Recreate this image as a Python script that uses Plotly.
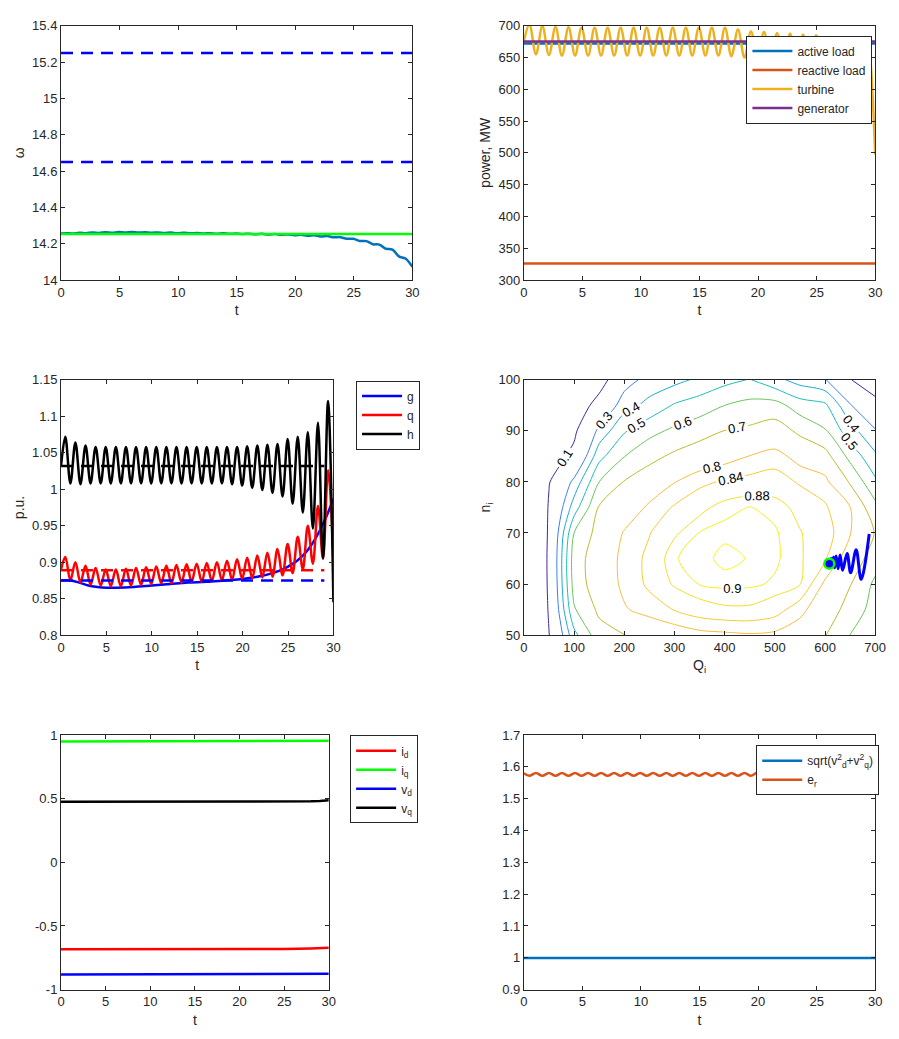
import plotly.graph_objects as go

# ---------------- data ----------------
# sample times at the extrema of the ~1.1 s oscillation (t=0, peak, trough, ..., t=30)
T_EXT = [0, 0.47, 1.03, 1.58, 2.14, 2.70, 3.25, 3.81, 4.37, 4.92, 5.48, 6.04, 6.59, 7.15, 7.71,
         8.26, 8.82, 9.37, 9.93, 10.49, 11.04, 11.60, 12.16, 12.71, 13.27, 13.83, 14.38, 14.94,
         15.50, 16.05, 16.61, 17.17, 17.72, 18.28, 18.84, 19.39, 19.95, 20.50, 21.06, 21.62,
         22.17, 22.73, 23.29, 23.84, 24.40, 24.96, 25.51, 26.07, 26.63, 27.18, 27.74, 28.30,
         28.85, 29.41, 30.0]
T_FLAT = [0, 5, 10, 15, 20, 25, 28, 29, 30]
T_G = [0, 1, 2, 3, 4, 5, 6, 8, 10, 12, 14, 16, 18, 20, 22, 23, 24, 25, 26, 27, 28, 29, 30]
T_REF = [0, 30]
T_REF2 = [0, 29]

# panel 1: omega
OMEGA = [14.256, 14.258, 14.256, 14.260, 14.258, 14.262, 14.259, 14.263, 14.260, 14.264, 14.261,
         14.264, 14.261, 14.263, 14.260, 14.262, 14.259, 14.261, 14.258, 14.260, 14.257, 14.259,
         14.256, 14.258, 14.255, 14.257, 14.254, 14.256, 14.253, 14.255, 14.252, 14.254, 14.251,
         14.253, 14.249, 14.251, 14.247, 14.249, 14.244, 14.246, 14.240, 14.242, 14.235, 14.236,
         14.227, 14.227, 14.215, 14.214, 14.197, 14.195, 14.172, 14.167, 14.130, 14.118, 14.072]
OMEGA_REF = [14.253, 14.253]
OMEGA_HI = [15.25, 15.25]
OMEGA_LO = [14.65, 14.65]

# panel 2: power (MW)
ACTIVE_LOAD = [672, 672, 672, 672, 672, 672, 672, 672, 672]
REACTIVE_LOAD = [326, 326, 326, 326, 326, 326, 325.5, 325, 326]
GENERATOR = [675, 675, 675, 675, 675, 675, 675, 675, 675]
TURBINE = [676, 702, 655, 699, 654, 698, 653, 697.5, 653, 697, 653, 697, 653, 697, 653, 697, 653,
           697, 653, 697, 653, 697, 653, 697, 653, 697, 653, 697, 653, 697, 653, 697, 652, 694,
           650, 691, 649, 690, 647, 688, 645, 687.5, 642, 686, 638, 685, 633, 682, 625, 678, 610,
           670, 554, 672, 497]

# panel 3: g, q, h (p.u.)
G_VAL = [0.875, 0.875, 0.872, 0.868, 0.866, 0.865, 0.865, 0.866, 0.868, 0.870, 0.872, 0.873,
         0.875, 0.877, 0.881, 0.884, 0.888, 0.894, 0.902, 0.914, 0.932, 0.956, 0.987]
Q_VAL = [0.890, 0.907, 0.875, 0.900, 0.872, 0.895, 0.869, 0.892, 0.868, 0.890, 0.867, 0.890,
         0.867, 0.891, 0.868, 0.892, 0.869, 0.893, 0.870, 0.894, 0.871, 0.895, 0.871, 0.896,
         0.872, 0.897, 0.873, 0.898, 0.873, 0.899, 0.874, 0.900, 0.875, 0.902, 0.876, 0.904,
         0.877, 0.906, 0.878, 0.909, 0.879, 0.913, 0.880, 0.918, 0.882, 0.925, 0.885, 0.935,
         0.890, 0.950, 0.898, 0.977, 0.905, 1.026, 0.908]
H_VAL = [1.032, 1.072, 1.008, 1.064, 1.007, 1.060, 1.008, 1.058, 1.008, 1.058, 1.008, 1.058,
         1.008, 1.058, 1.008, 1.058, 1.008, 1.058, 1.008, 1.058, 1.008, 1.058, 1.008, 1.058,
         1.008, 1.058, 1.008, 1.058, 1.008, 1.058, 1.008, 1.058, 1.008, 1.058, 1.007, 1.058,
         1.005, 1.059, 1.002, 1.060, 0.999, 1.061, 0.995, 1.062, 0.990, 1.069, 0.980, 1.072,
         0.968, 1.078, 0.946, 1.091, 0.905, 1.121, 0.845]
G_REF = [0.875, 0.875]
Q_REF = [0.889, 0.889]
H_REF = [1.032, 1.032]

# panel 4: efficiency map
Q_GRID = [0, 50, 100, 150, 200, 250, 300, 350, 400, 450, 500, 550, 600, 650, 700]
N_GRID = [50, 55, 60, 65, 70, 75, 80, 85, 90, 95, 100]
EFF = [
    [-0.40, 0.095, 0.47, 0.66, 0.698, 0.75, 0.77, 0.785, 0.79, 0.795, 0.79, 0.77, 0.705, 0.598, 0.52],
    [-0.35, 0.12, 0.59, 0.72, 0.795, 0.82, 0.842, 0.865, 0.875, 0.875, 0.86, 0.815, 0.76, 0.66, 0.56],
    [-0.35, 0.135, 0.64, 0.76, 0.812, 0.848, 0.885, 0.901, 0.905, 0.904, 0.897, 0.882, 0.79, 0.705, 0.58],
    [-0.35, 0.14, 0.65, 0.76, 0.815, 0.85, 0.899, 0.905, 0.914, 0.909, 0.904, 0.885, 0.845, 0.77, 0.645],
    [-0.35, 0.13, 0.60, 0.74, 0.805, 0.838, 0.875, 0.901, 0.907, 0.908, 0.903, 0.882, 0.86, 0.803, 0.695],
    [-0.35, 0.12, 0.45, 0.71, 0.76, 0.81, 0.845, 0.87, 0.893, 0.901, 0.893, 0.87, 0.845, 0.802, 0.63],
    [-0.35, 0.09, 0.33, 0.60, 0.705, 0.76, 0.798, 0.83, 0.845, 0.855, 0.86, 0.835, 0.82, 0.69, 0.52],
    [-0.40, 0.02, 0.14, 0.47, 0.598, 0.67, 0.72, 0.76, 0.78, 0.802, 0.82, 0.78, 0.74, 0.57, 0.42],
    [-0.45, -0.05, 0.07, 0.33, 0.49, 0.57, 0.62, 0.66, 0.702, 0.72, 0.75, 0.68, 0.61, 0.44, 0.31],
    [-0.50, -0.15, -0.02, 0.17, 0.36, 0.43, 0.51, 0.55, 0.60, 0.63, 0.64, 0.55, 0.52, 0.31, 0.18],
    [-0.55, -0.25, -0.10, 0.02, 0.25, 0.34, 0.37, 0.42, 0.47, 0.505, 0.43, 0.36, 0.31, 0.11, -0.05],
]
LEVELS = [0.1, 0.3, 0.4, 0.5, 0.6, 0.7, 0.8, 0.84, 0.88, 0.9, 0.91]
LEVEL_COLORS = ['#3E26A8', '#3A7FF0', '#1AA8DA', '#1DBFB0', '#6CC55A', '#BDBC2B',
                '#F9BC3C', '#F6CC30', '#F2E025', '#F5F017', '#F9FB0E']
TRAJ_Q = [608.6, 612, 614, 617, 619, 622, 626, 630, 635, 644, 651, 662, 672, 688]
TRAJ_N = [64.0, 65.0, 63.4, 65.3, 63.2, 65.5, 63.0, 65.7, 62.7, 66.0, 62.2, 66.7, 60.9, 69.8]
START_Q = [608.6]
START_N = [64.0]

# panel 5: currents and voltages
I_D = [-0.683, -0.683, -0.682, -0.682, -0.681, -0.680, -0.677, -0.675, -0.672]
I_Q = [0.950, 0.950, 0.950, 0.950, 0.950, 0.951, 0.952, 0.953, 0.955]
V_D = [-0.881, -0.881, -0.881, -0.881, -0.881, -0.880, -0.879, -0.878, -0.876]
V_Q = [0.476, 0.476, 0.476, 0.476, 0.477, 0.477, 0.479, 0.482, 0.487]

# panel 6: voltage magnitude and e_r
V_MAG = [0.999, 0.999, 0.999, 0.999, 0.999, 0.999, 0.999, 0.998, 0.999]
E_R = [1.580, 1.572, 1.581, 1.572, 1.581, 1.572, 1.581, 1.572, 1.581, 1.572, 1.581, 1.572,
       1.581, 1.572, 1.581, 1.572, 1.581, 1.572, 1.581, 1.572, 1.581, 1.572, 1.581, 1.572,
       1.581, 1.572, 1.581, 1.572, 1.581, 1.572, 1.581, 1.572, 1.581, 1.572, 1.581, 1.572,
       1.582, 1.571, 1.583, 1.570, 1.584, 1.569, 1.586, 1.567, 1.588, 1.565, 1.591, 1.563,
       1.595, 1.562, 1.602, 1.570, 1.618, 1.593, 1.611]

# ---------------- styling ----------------
W, H = 899, 1039
FONT = "Liberation Sans, Arial, Helvetica, sans-serif"
TXT = "#262626"
M_BLUE, M_ORANGE, M_YELLOW, M_PURPLE = '#0072BD', '#D95319', '#EDB120', '#7E2F8E'
LW = 2.5
DASH = "12px,8px"


def xdom(a, b):
    return [a / W, b / W]


def ydom(top, bottom):
    return [1 - bottom / H, 1 - top / H]


def ax(domain, rng, anchor, dtick=None, title=None, tickvals=None, ticktext=None, standoff=6):
    d = dict(domain=domain, range=rng, anchor=anchor, showline=True, linecolor=TXT, linewidth=1,
             mirror='ticks', ticks='inside', ticklen=4, tickwidth=1, tickcolor=TXT,
             showgrid=False, zeroline=False,
             tickfont=dict(family=FONT, size=13, color=TXT))
    if dtick is not None:
        d['dtick'] = dtick
        d['tick0'] = rng[0]
    if tickvals is not None:
        d['tickmode'] = 'array'
        d['tickvals'] = tickvals
        d['ticktext'] = ticktext
    if title:
        d['title'] = dict(text=title, font=dict(family=FONT, size=14, color=TXT), standoff=standoff)
    return d


fig = go.Figure()


def line(x, y, color, axes, name=None, legend=None, dash=None, width=LW, shape='linear'):
    fig.add_trace(go.Scatter(x=x, y=y, mode='lines', name=name,
                             line=dict(color=color, width=width, dash=dash, shape=shape),
                             xaxis='x' + axes, yaxis='y' + axes,
                             showlegend=name is not None, legend=legend, hoverinfo='skip'))


# panel 1
line(T_EXT, OMEGA, M_BLUE, '1', shape='spline')
line(T_REF, OMEGA_REF, '#00FF00', '1')
line(T_REF, OMEGA_HI, '#0000FF', '1', dash=DASH)
line(T_REF, OMEGA_LO, '#0000FF', '1', dash=DASH)

# panel 2
line(T_FLAT, ACTIVE_LOAD, M_BLUE, '2', 'active load', 'legend')
line(T_FLAT, REACTIVE_LOAD, M_ORANGE, '2', 'reactive load', 'legend')
line(T_EXT, TURBINE, M_YELLOW, '2', 'turbine', 'legend', shape='spline')
line(T_FLAT, GENERATOR, M_PURPLE, '2', 'generator', 'legend')

# panel 3
line(T_G, G_VAL, '#0000FF', '3', 'g', 'legend2', shape='spline')
line(T_EXT, Q_VAL, '#FF0000', '3', 'q', 'legend2', shape='spline')
line(T_EXT, H_VAL, '#000000', '3', 'h', 'legend2', shape='spline')
line(T_REF2, G_REF, '#0000FF', '3', dash=DASH)
line(T_REF2, Q_REF, '#FF0000', '3', dash=DASH)
line(T_REF2, H_REF, '#000000', '3', dash=DASH)

# panel 4
for lv, col in zip(LEVELS, LEVEL_COLORS):
    fig.add_trace(go.Contour(
        x=Q_GRID, y=N_GRID, z=EFF, xaxis='x4', yaxis='y4', autocontour=False,
        contours=dict(start=lv, end=lv, size=0.001, coloring='none', showlabels=True,
                      labelfont=dict(family=FONT, size=13, color='#000000')),
        line=dict(color=col, width=1, smoothing=0.8), showscale=False, showlegend=False,
        hoverinfo='skip'))
line(TRAJ_Q, TRAJ_N, '#0000FF', '4', width=3, shape='spline')
fig.add_trace(go.Scatter(x=START_Q, y=START_N, mode='markers', xaxis='x4', yaxis='y4',
                         marker=dict(symbol='circle', size=10, color='#0000FF',
                                     line=dict(color='#00FF00', width=2.5)),
                         showlegend=False, hoverinfo='skip'))

# panel 5
line(T_FLAT, I_D, '#FF0000', '5', 'i<sub>d</sub>', 'legend3')
line(T_FLAT, I_Q, '#00FF00', '5', 'i<sub>q</sub>', 'legend3')
line(T_FLAT, V_D, '#0000FF', '5', 'v<sub>d</sub>', 'legend3')
line(T_FLAT, V_Q, '#000000', '5', 'v<sub>q</sub>', 'legend3')

# panel 6
line(T_FLAT, V_MAG, M_BLUE, '6', 'sqrt(v<sup>2</sup><sub>d</sub>+v<sup>2</sup><sub>q</sub>)', 'legend4')
line(T_EXT, E_R, M_ORANGE, '6', 'e<sub>r</sub>', 'legend4', shape='spline')

# ---------------- layout ----------------
XL, XR = 58, 415.3
XL2, XR2 = 528.7, 886
Y1 = (19, 277)
Y2 = (378.3, 637.3)
Y3 = (738.7, 997)


def legend_box(x, y):
    return dict(x=x / W, y=1 - y / H, xanchor='left', yanchor='top', bgcolor='white',
                bordercolor=TXT, borderwidth=1, font=dict(family=FONT, size=12, color=TXT),
                itemwidth=40, tracegroupgap=0, itemclick=False)


fig.update_layout(
    width=W, height=H, margin=dict(l=0, r=0, t=0, b=0),
    paper_bgcolor='white', plot_bgcolor='white',
    font=dict(family=FONT, color=TXT),
    xaxis=ax(xdom(XL, XR), [0, 30], 'y', dtick=5, title='t'),
    yaxis=ax(ydom(*Y1), [14, 15.4], 'x', dtick=0.2, title='ω', standoff=4),
    xaxis2=ax(xdom(XL2, XR2), [0, 30], 'y2', dtick=5, title='t'),
    yaxis2=ax(ydom(*Y1), [300, 700], 'x2', dtick=50, title='power, MW', standoff=4),
    xaxis3=ax(xdom(XL, 335), [0, 30], 'y3', dtick=5, title='t'),
    yaxis3=ax(ydom(*Y2), [0.8, 1.15], 'x3', dtick=0.05, title='p.u.', standoff=4),
    xaxis4=ax(xdom(XL2, XR2), [0, 700], 'y4', dtick=100, title='Q<sub>i</sub>'),
    yaxis4=ax(ydom(*Y2), [50, 100], 'x4', dtick=10, title='n<sub>i</sub>', standoff=4),
    xaxis5=ax(xdom(XL, 330.3), [0, 30], 'y5', dtick=5, title='t'),
    yaxis5=ax(ydom(*Y3), [-1, 1], 'x5', tickvals=[-1, -0.5, 0, 0.5, 1],
              ticktext=['-1', '-0.5', '0', '0.5', '1']),
    xaxis6=ax(xdom(XL2, XR2), [0, 30], 'y6', dtick=5, title='t'),
    yaxis6=ax(ydom(*Y3), [0.9, 1.7], 'x6', dtick=0.1),
    legend=legend_box(755, 29),
    legend2=legend_box(358, 379),
    legend3=legend_box(352, 739),
    legend4=legend_box(765, 749),
    showlegend=True,
)

fig.write_html("out.html")
